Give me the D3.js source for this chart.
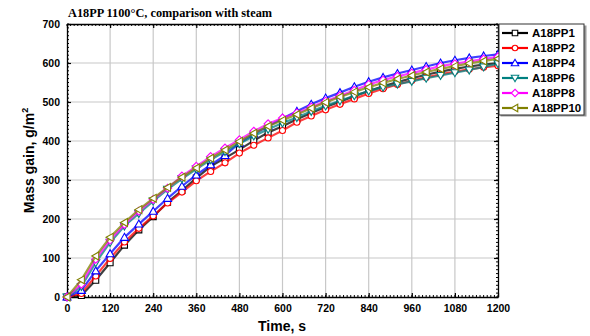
<!DOCTYPE html>
<html>
<head>
<meta charset="utf-8">
<script src="https://cdn.jsdelivr.net/npm/d3@7"></script>
<style>
  body { margin: 0; background: #fff; }
  svg { display: block; }
  .tick text { font-family: "Liberation Sans", Arial, sans-serif; font-weight: bold; font-size: 10.5px; fill: #000; }
</style>
</head>
<body>
<svg id="chart" width="590" height="336"></svg>
<script>
// time points, s
var times = d3.range(0, 1201, 40);

// mass gain, g/m2
var pp1  = [0, 4, 43, 88, 133, 172, 206, 243, 273, 305, 335, 356, 378, 401, 422, 438, 456, 472, 487, 501, 515, 528, 540, 551, 561, 570, 578, 585, 591, 596, 600];
var pp2  = [0, 9, 54, 99, 141, 176, 208, 241, 269, 298, 322, 344, 369, 389, 408, 427, 448, 464, 480, 494, 508, 522, 534, 545, 555, 563, 571, 578, 584, 589, 593];
var pp4  = [0, 17, 67, 111, 153, 187, 220, 253, 284, 313, 339, 363, 395, 418, 438, 458, 476, 494, 510, 524, 539, 552, 563, 573, 582, 591, 600, 607, 613, 618, 622];
var pp6  = [0, 27, 88, 140, 182, 214, 246, 276, 303, 328, 352, 373, 393, 413, 430, 446, 460, 476, 490, 503, 516, 528, 538, 546, 553, 561, 568, 575, 582, 590, 598];
var pp8  = [0, 33, 97, 146, 186, 220, 250, 279, 310, 335, 360, 382, 403, 425, 444, 459, 472, 487, 502, 516, 530, 545, 556, 566, 574, 583, 592, 598, 604, 610, 616];
var pp10 = [0, 44, 105, 153, 191, 224, 253, 281, 307, 331, 356, 377, 399, 420, 438, 453, 468, 484, 499, 513, 526, 538, 549, 559, 568, 577, 585, 592, 599, 605, 611];

var seriesNames = ['A18PP1', 'A18PP2', 'A18PP4', 'A18PP6', 'A18PP8', 'A18PP10'];
var seriesValues = [pp1, pp2, pp4, pp6, pp8, pp10];
var seriesColors = ['#000000', '#ff0000', '#0000ff', '#008080', '#ff00ff', '#808000'];
var seriesMarkers = ['square', 'circle', 'up', 'down', 'diamond', 'left'];

var xTicks = d3.range(0, 1201, 120);
var yTicks = d3.range(0, 701, 100);

var svg = d3.select('#chart');
var plotLeft = 67, plotRight = 498, plotTop = 24, plotBottom = 297;

var x = d3.scaleLinear().domain([0, 1200]).range([plotLeft, plotRight]);
var y = d3.scaleLinear().domain([0, 700]).range([plotBottom, plotTop]);

// grid
svg.append('g').selectAll('line').data(xTicks.slice(1, -1)).enter().append('line')
	.attr('x1', x).attr('x2', x).attr('y1', plotTop).attr('y2', plotBottom)
	.attr('stroke', '#c8c8c8').attr('stroke-width', 1.2);
svg.append('g').selectAll('line').data(yTicks.slice(1, -1)).enter().append('line')
	.attr('y1', y).attr('y2', y).attr('x1', plotLeft).attr('x2', plotRight)
	.attr('stroke', '#c8c8c8').attr('stroke-width', 1.2);

// minor ticks on all four sides
var minorX = d3.range(0, 1201, 10);
var minorY = d3.range(0, 701, 10);
[plotBottom, plotTop].forEach(function(yy, i) {
	svg.append('g').selectAll('line').data(minorX).enter().append('line')
		.attr('x1', x).attr('x2', x)
		.attr('y1', yy).attr('y2', i === 0 ? yy - 2 : yy + 2)
		.attr('stroke', '#000').attr('stroke-width', 1);
});
[plotLeft, plotRight].forEach(function(xx, i) {
	svg.append('g').selectAll('line').data(minorY).enter().append('line')
		.attr('y1', y).attr('y2', y)
		.attr('x1', xx).attr('x2', i === 0 ? xx + 2 : xx - 2)
		.attr('stroke', '#000').attr('stroke-width', 1);
});

// axes
svg.append('g').attr('transform', 'translate(0,' + plotBottom + ')')
	.call(d3.axisBottom(x).tickValues(xTicks).tickFormat(d3.format('d')).tickSize(-4).tickPadding(8).tickSizeOuter(0));
svg.append('g').attr('transform', 'translate(' + plotLeft + ',0)')
	.call(d3.axisLeft(y).tickValues(yTicks).tickFormat(d3.format('d')).tickSize(-4).tickPadding(7).tickSizeOuter(0));
svg.append('g').attr('transform', 'translate(0,' + plotTop + ')')
	.call(d3.axisTop(x).tickValues(xTicks).tickSize(-4).tickFormat('').tickSizeOuter(0));
svg.append('g').attr('transform', 'translate(' + plotRight + ',0)')
	.call(d3.axisRight(y).tickValues(yTicks).tickSize(-4).tickFormat('').tickSizeOuter(0));
svg.selectAll('.domain').attr('stroke', '#000').attr('stroke-width', 1.3);
svg.selectAll('.tick line').attr('stroke', '#000').attr('stroke-width', 1.2);

// marker symbol paths
function markerPath(kind, s) {
	var h = s / 2;
	if (kind === 'square') return 'M' + (-h) + ',' + (-h) + 'h' + s + 'v' + s + 'h' + (-s) + 'Z';
	if (kind === 'circle') return d3.symbol(d3.symbolCircle, s * s * 0.8)();
	if (kind === 'up') return 'M0,' + (-h - 1) + 'L' + (h + 1) + ',' + (h) + 'L' + (-h - 1) + ',' + h + 'Z';
	if (kind === 'down') return 'M0,' + (h + 1) + 'L' + (h + 1) + ',' + (-h) + 'L' + (-h - 1) + ',' + (-h) + 'Z';
	if (kind === 'diamond') return 'M0,' + (-h - 1) + 'L' + (h + 1) + ',0L0,' + (h + 1) + 'L' + (-h - 1) + ',0Z';
	if (kind === 'left') return 'M' + (-h - 1) + ',0L' + h + ',' + (-h - 1) + 'L' + h + ',' + (h + 1) + 'Z';
}

var line = d3.line().x(function(d) { return x(d[0]); }).y(function(d) { return y(d[1]); });

seriesValues.forEach(function(vals, i) {
	var pts = times.map(function(t, j) { return [t, vals[j]]; });
	var g = svg.append('g');
	g.append('path').datum(pts).attr('d', line)
		.attr('fill', 'none').attr('stroke', seriesColors[i])
		.attr('stroke-opacity', 0.75).attr('stroke-width', 2.2);
	g.selectAll('path.m').data(pts).enter().append('path').attr('class', 'm')
		.attr('transform', function(d) { return 'translate(' + x(d[0]) + ',' + y(d[1]) + ')'; })
		.attr('d', markerPath(seriesMarkers[i], 6))
		.attr('fill', '#fff').attr('stroke', seriesColors[i]).attr('stroke-width', 1.1);
});

// legend
var lg = svg.append('g').attr('transform', 'translate(499,24)');
lg.append('rect').attr('x', 1.5).attr('y', 1.5).attr('width', 86).attr('height', 91).attr('fill', '#999');
lg.append('rect').attr('width', 85).attr('height', 91).attr('fill', '#fff')
	.attr('stroke', '#333').attr('stroke-width', 1);
seriesNames.forEach(function(name, i) {
	var yy = 9 + i * 15;
	lg.append('line').attr('x1', 3).attr('x2', 29).attr('y1', yy).attr('y2', yy)
		.attr('stroke', seriesColors[i]).attr('stroke-width', 2.2);
	lg.append('path').attr('transform', 'translate(16,' + yy + ')')
		.attr('d', markerPath(seriesMarkers[i], 5.5))
		.attr('fill', '#fff').attr('stroke', seriesColors[i]).attr('stroke-width', 1.1);
	lg.append('text').attr('x', 33).attr('y', yy + 4).text(name)
		.attr('font-family', '"Liberation Sans", Arial, sans-serif')
		.attr('font-weight', 'bold').attr('font-size', '11.5px');
});

// titles
svg.append('text').attr('x', 68).attr('y', 17).text('A18PP 1100\u00b0C, comparison with steam')
	.attr('font-family', '"Liberation Serif", "Times New Roman", serif')
	.attr('font-weight', 'bold').attr('font-size', '12.3px');
svg.append('text').attr('x', 282).attr('y', 331).attr('text-anchor', 'middle').text('Time, s')
	.attr('font-family', '"Liberation Sans", Arial, sans-serif')
	.attr('font-weight', 'bold').attr('font-size', '14px');
var yl = svg.append('text').attr('transform', 'translate(34,' + ((plotTop + plotBottom) / 2) + ') rotate(-90)')
	.attr('text-anchor', 'middle')
	.attr('font-family', '"Liberation Sans", Arial, sans-serif')
	.attr('font-weight', 'bold').attr('font-size', '14px');
yl.append('tspan').text('Mass gain, g/m');
yl.append('tspan').attr('dy', -6).attr('font-size', '9px').text('2');
</script>
</body>
</html>
